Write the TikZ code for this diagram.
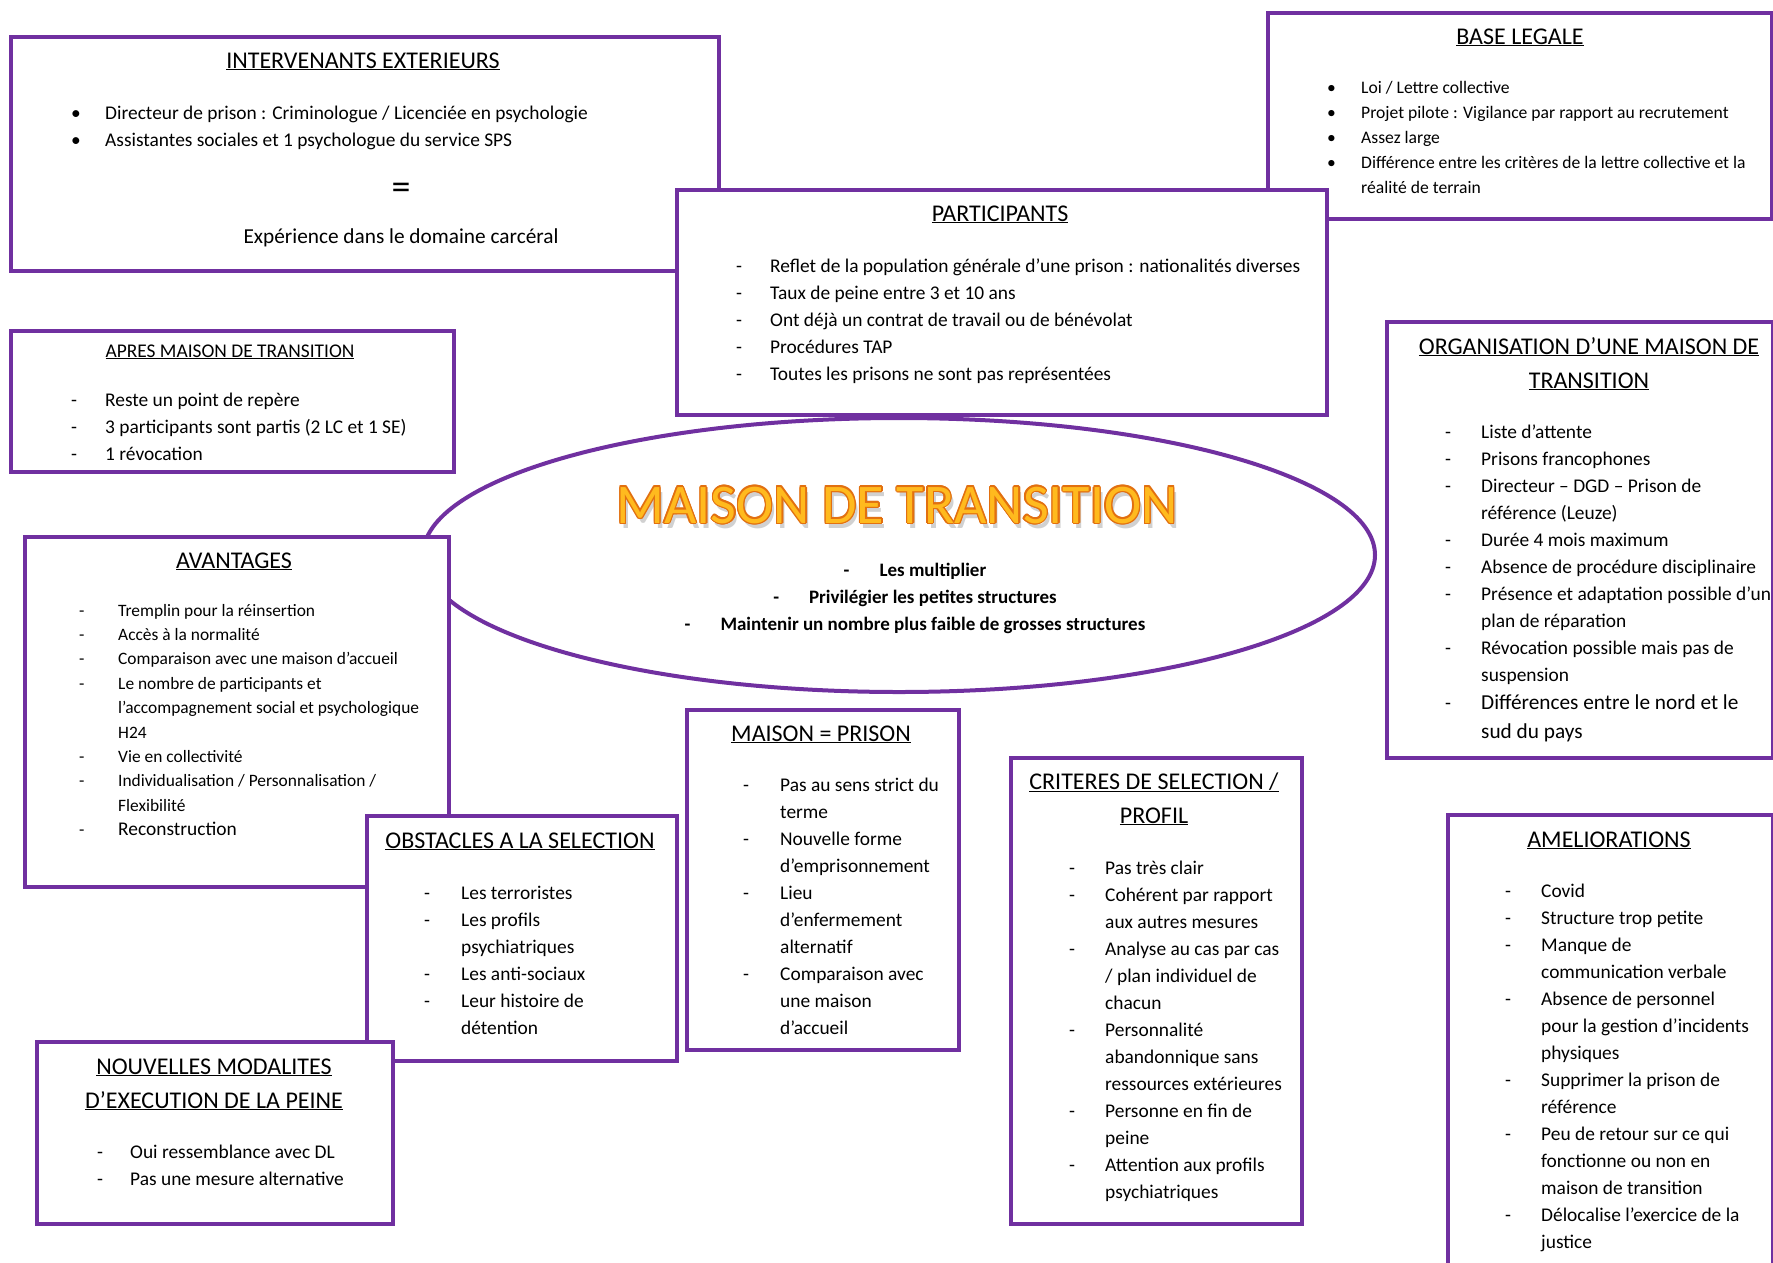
\documentclass[tikz,border=0pt]{standalone}
\usepackage{fontspec}
\setmainfont{Carlito}
\usetikzlibrary{shapes.geometric, positioning}
\definecolor{mtpurple}{RGB}{112,48,160}
\definecolor{mtgold}{RGB}{255,186,30}
\definecolor{mtorange}{RGB}{226,112,16}

\begin{document}
\begin{tikzpicture}[x=1pt, y=-1pt,
  panel/.style={draw=mtpurple, line width=4pt, fill=white, anchor=north west, inner sep=0pt},
  heading/.style={font=\fontsize{24}{34}\selectfont, anchor=base, inner sep=0pt},
  items/.style={font=\fontsize{19.4}{27}\selectfont, anchor=base west, inner sep=0pt},
  bigtitle/.style={font=\fontsize{56}{60}\selectfont, anchor=base, inner sep=0pt}]

  \useasboundingbox[fill=white] (0,0) rectangle (1773,1262);

  % intervenants exterieurs
  \node[panel, minimum width=708pt, minimum height=234pt] (interv) at (9,35) {};
  \node[heading] (intervtitle) at (363,68) {\underline{INTERVENANTS EXTERIEURS}};
  \node[items] (intervlist) at (71,119) {\begin{tabular}[t]{@{}p{34pt}@{}l@{}}
    \textbullet & Directeur de prison : Criminologue / Licenciée en psychologie\\
    \textbullet & Assistantes sociales et 1 psychologue du service SPS
  \end{tabular}};
  \node[font=\fontsize{38}{40}\selectfont, anchor=base, inner sep=0pt] (interveq) at (401,199) {=};
  \node[font=\fontsize{21.3}{27}\selectfont, anchor=base, inner sep=0pt] (intervexp) at (401,243) {Expérience dans le domaine carcéral};

  % base legale
  \node[panel, minimum width=504pt, minimum height=206pt] (base) at (1266,11) {};
  \node[heading] (basetitle) at (1520,44) {\underline{BASE LEGALE}};
  \node[items, font=\fontsize{17.6}{25}\selectfont] (baselist) at (1327,93) {\begin{tabular}[t]{@{}p{34pt}@{}l@{}}
    \textbullet & Loi / Lettre collective\\
    \textbullet & Projet pilote : Vigilance par rapport au recrutement\\
    \textbullet & Assez large\\
    \textbullet & Différence entre les critères de la lettre collective et la\\
     & réalité de terrain
  \end{tabular}};

  % participants
  \node[panel, minimum width=650pt, minimum height=225pt] (partic) at (675,188) {};
  \node[heading] (partictitle) at (1000,221) {\underline{PARTICIPANTS}};
  \node[items] (particlist) at (736,272) {\begin{tabular}[t]{@{}p{34pt}@{}l@{}}
    - & Reflet de la population générale d’une prison : nationalités diverses\\
    - & Taux de peine entre 3 et 10 ans\\
    - & Ont déjà un contrat de travail ou de bénévolat\\
    - & Procédures TAP\\
    - & Toutes les prisons ne sont pas représentées
  \end{tabular}};

  % apres maison de transition
  \node[panel, minimum width=443pt, minimum height=141pt] (apres) at (9,329) {};
  \node[heading, font=\fontsize{19.4}{27}\selectfont] (aprestitle) at (230,357) {\underline{APRES MAISON DE TRANSITION}};
  \node[items] (apreslist) at (71,406) {\begin{tabular}[t]{@{}p{34pt}@{}l@{}}
    - & Reste un point de repère\\
    - & 3 participants sont partis (2 LC et 1 SE)\\
    - & 1 révocation
  \end{tabular}};

  % centre
  \node[ellipse, draw=mtpurple, line width=4pt, fill=white, minimum width=952pt, minimum height=274pt] (centre) at (899,555) {};
  \node[bigtitle, text=black!40, opacity=.45] (titleshadow) at (900,528) {MAISON DE TRANSITION};
  \foreach \a in {0,30,...,330}
    \node[bigtitle, text=mtorange, shift={(\a:1.4)}] (titlerim\a) at (897,523) {MAISON DE TRANSITION};
  \node[bigtitle, text=mtgold] (title) at (897,523) {MAISON DE TRANSITION};
  \node[font=\fontsize{19}{27}\bfseries, anchor=base, inner sep=0pt] (centrelist) at (915,576) {\begin{tabular}[t]{@{}c@{}}
    -\hspace{30pt}Les multiplier\\
    -\hspace{30pt}Privilégier les petites structures\\
    -\hspace{30pt}Maintenir un nombre plus faible de grosses structures
  \end{tabular}};

  % avantages
  \node[panel, minimum width=424pt, minimum height=350pt] (avant) at (23,535) {};
  \node[heading] (avanttitle) at (234,568) {\underline{AVANTAGES}};
  \node[items, font=\fontsize{17.4}{24.4}\selectfont] (avantlist) at (79,616) {\begin{tabular}[t]{@{}p{39pt}@{}l@{}}
    - & Tremplin pour la réinsertion\\
    - & Accès à la normalité\\
    - & Comparaison avec une maison d’accueil\\
    - & Le nombre de participants et\\
     & l’accompagnement social et psychologique\\
     & H24\\
    - & Vie en collectivité\\
    - & Individualisation / Personnalisation /\\
     & Flexibilité\\
    - & {\fontsize{19.4}{24.4}\selectfont Reconstruction}
  \end{tabular}};

  % obstacles a la selection
  \node[panel, minimum width=310pt, minimum height=245pt] (obst) at (365,814) {};
  \node[heading] (obsttitle) at (520,848) {\underline{OBSTACLES A LA SELECTION}};
  \node[items] (obstlist) at (424,899) {\begin{tabular}[t]{@{}p{37pt}@{}l@{}}
    - & Les terroristes\\
    - & Les profils\\
     & psychiatriques\\
    - & Les anti-sociaux\\
    - & Leur histoire de\\
     & détention
  \end{tabular}};

  % nouvelles modalites
  \node[panel, minimum width=356pt, minimum height=182pt] (modal) at (35,1040) {};
  \node[heading] (modaltitle) at (214,1074) {\begin{tabular}[t]{@{}c@{}}
    \underline{NOUVELLES MODALITES}\\
    \underline{D’EXECUTION DE LA PEINE}
  \end{tabular}};
  \node[items] (modallist) at (97,1158) {\begin{tabular}[t]{@{}p{33pt}@{}l@{}}
    - & Oui ressemblance avec DL\\
    - & Pas une mesure alternative
  \end{tabular}};

  % maison = prison
  \node[panel, minimum width=272pt, minimum height=340pt] (prison) at (685,708) {};
  \node[heading] (prisontitle) at (821,741) {\underline{MAISON = PRISON}};
  \node[items] (prisonlist) at (743,791) {\begin{tabular}[t]{@{}p{37pt}@{}l@{}}
    - & Pas au sens strict du\\
     & terme\\
    - & Nouvelle forme\\
     & d’emprisonnement\\
    - & Lieu\\
     & d’enfermement\\
     & alternatif\\
    - & Comparaison avec\\
     & une maison\\
     & d’accueil
  \end{tabular}};

  % criteres de selection
  \node[panel, minimum width=291pt, minimum height=466pt] (crit) at (1009,756) {};
  \node[heading] (crittitle) at (1154,789) {\begin{tabular}[t]{@{}c@{}}
    \underline{CRITERES DE SELECTION /}\\
    \underline{PROFIL}
  \end{tabular}};
  \node[items] (critlist) at (1069,874) {\begin{tabular}[t]{@{}p{36pt}@{}l@{}}
    - & Pas très clair\\
    - & Cohérent par rapport\\
     & aux autres mesures\\
    - & Analyse au cas par cas\\
     & / plan individuel de\\
     & chacun\\
    - & Personnalité\\
     & abandonnique sans\\
     & ressources extérieures\\
    - & Personne en fin de\\
     & peine\\
    - & Attention aux profils\\
     & psychiatriques
  \end{tabular}};

  % organisation
  \node[panel, minimum width=386pt, minimum height=436pt] (orga) at (1385,320) {};
  \node[heading] (orgatitle) at (1589,354) {\begin{tabular}[t]{@{}c@{}}
    \underline{ORGANISATION D’UNE MAISON DE}\\
    \underline{TRANSITION}
  \end{tabular}};
  \node[items] (orgalist) at (1445,438) {\begin{tabular}[t]{@{}p{36pt}@{}l@{}}
    - & Liste d’attente\\
    - & Prisons francophones\\
    - & Directeur – DGD – Prison de\\
     & référence (Leuze)\\
    - & Durée 4 mois maximum\\
    - & Absence de procédure disciplinaire\\
    - & Présence et adaptation possible d’un\\
     & plan de réparation\\
    - & Révocation possible mais pas de\\
     & suspension\\[1.5pt]
    - & {\fontsize{21.3}{30}\selectfont Différences entre le nord et le}\\[2pt]
     & {\fontsize{21.3}{30}\selectfont sud du pays}
  \end{tabular}};

  % ameliorations
  \node[panel, minimum width=325pt, minimum height=460pt] (amel) at (1446,813) {};
  \node[heading] (ameltitle) at (1609,847) {\underline{AMELIORATIONS}};
  \node[items] (amellist) at (1505,897) {\begin{tabular}[t]{@{}p{36pt}@{}l@{}}
    - & Covid\\
    - & Structure trop petite\\
    - & Manque de\\
     & communication verbale\\
    - & Absence de personnel\\
     & pour la gestion d’incidents\\
     & physiques\\
    - & Supprimer la prison de\\
     & référence\\
    - & Peu de retour sur ce qui\\
     & fonctionne ou non en\\
     & maison de transition\\
    - & Délocalise l’exercice de la\\
     & justice
  \end{tabular}};
\end{tikzpicture}
\end{document}
